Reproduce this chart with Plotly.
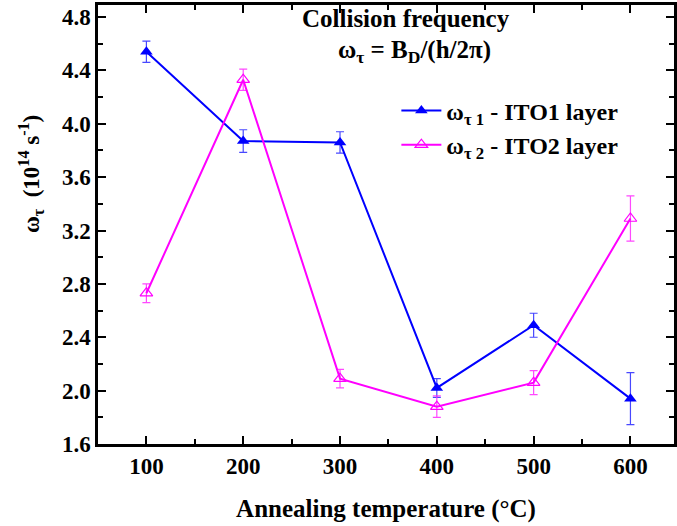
import plotly.graph_objects as go

# Annealing temperatures (°C)
temperature = [100, 200, 300, 400, 500, 600]

# Collision frequency ω_τ (10^14 s^-1) and its uncertainty
ito1_freq = [4.54, 3.87, 3.86, 2.02, 2.49, 1.94]
ito1_err = [0.08, 0.085, 0.08, 0.07, 0.09, 0.195]
ito2_freq = [2.73, 4.33, 2.09, 1.88, 2.06, 3.29]
ito2_err = [0.07, 0.08, 0.07, 0.08, 0.09, 0.17]

x_ticks = [100, 200, 300, 400, 500, 600]
y_ticks = [1.6, 2.0, 2.4, 2.8, 3.2, 3.6, 4.0, 4.4, 4.8]

FONT = "Liberation Serif"
BLUE = "#0000ff"
MAGENTA = "#ff00ff"

fig = go.Figure()

fig.add_trace(go.Scatter(
    x=temperature, y=ito1_freq,
    mode="lines+markers",
    name="<b>ω<sub>τ 1</sub> - ITO1 layer</b>",
    line=dict(color=BLUE, width=2),
    marker=dict(symbol="triangle-up", size=11, color=BLUE),
    error_y=dict(type="data", array=ito1_err, visible=True,
                 color="rgba(40,40,255,0.85)", thickness=1.2, width=4),
))

fig.add_trace(go.Scatter(
    x=temperature, y=ito2_freq,
    mode="lines+markers",
    name="<b>ω<sub>τ 2</sub> - ITO2 layer</b>",
    line=dict(color=MAGENTA, width=2),
    marker=dict(symbol="triangle-up-open", size=11, color=MAGENTA,
                line=dict(width=1.2, color=MAGENTA)),
    error_y=dict(type="data", array=ito2_err, visible=True,
                 color="rgba(255,40,255,0.85)", thickness=1.2, width=4),
))

axis_common = dict(
    showline=True, linecolor="black", linewidth=2.5,
    mirror="ticks", ticks="inside", ticklen=8, tickwidth=2,
    tickcolor="black", showgrid=False, zeroline=False,
    tickfont=dict(family=FONT, size=23, color="black", weight="bold"),
)

fig.update_xaxes(
    range=[50, 645],
    tickvals=x_ticks,
    tickformat="d",
    minor=dict(dtick=50, tick0=50, ticks="inside", ticklen=5,
               tickwidth=1.5, tickcolor="black"),
    title=dict(text="<b>Annealing temperature (°C)</b>",
               font=dict(family=FONT, size=25, color="black"), standoff=22),
    **axis_common,
)

fig.update_yaxes(
    range=[1.6, 4.89],
    tickvals=y_ticks,
    tickformat=".1f",
    minor=dict(dtick=0.2, tick0=1.6, ticks="inside", ticklen=5,
               tickwidth=1.5, tickcolor="black"),
    **axis_common,
)

fig.add_annotation(
    text="<b>Collision frequency</b>",
    xref="paper", yref="paper", x=0.534, y=0.97,
    showarrow=False, xanchor="center", yanchor="middle",
    font=dict(family=FONT, size=25, color="black"),
)
fig.add_annotation(
    text="<b>ω<sub>τ</sub> = B<sub>D</sub>/(h/2π)</b>",
    xref="paper", yref="paper", x=0.55, y=0.893,
    showarrow=False, xanchor="center", yanchor="middle",
    font=dict(family=FONT, size=25, color="black"),
)
fig.add_annotation(
    text="<b>ω<sub>τ</sub>  (10<sup>14</sup> s<sup>-1</sup>)</b>",
    xref="paper", yref="paper", x=-0.118, y=0.615,
    showarrow=False, textangle=-90, xanchor="center", yanchor="middle",
    font=dict(family=FONT, size=23, color="black"),
)

fig.update_layout(
    width=677, height=526,
    margin=dict(l=98, r=0, t=5, b=82),
    paper_bgcolor="white", plot_bgcolor="white",
    showlegend=True,
    legend=dict(
        x=0.518, y=0.81, xanchor="left", yanchor="top",
        bgcolor="rgba(0,0,0,0)", borderwidth=0,
        font=dict(family=FONT, size=24, color="black"),
        tracegroupgap=6, itemwidth=40,
    ),
)

fig.write_html("out.html")
